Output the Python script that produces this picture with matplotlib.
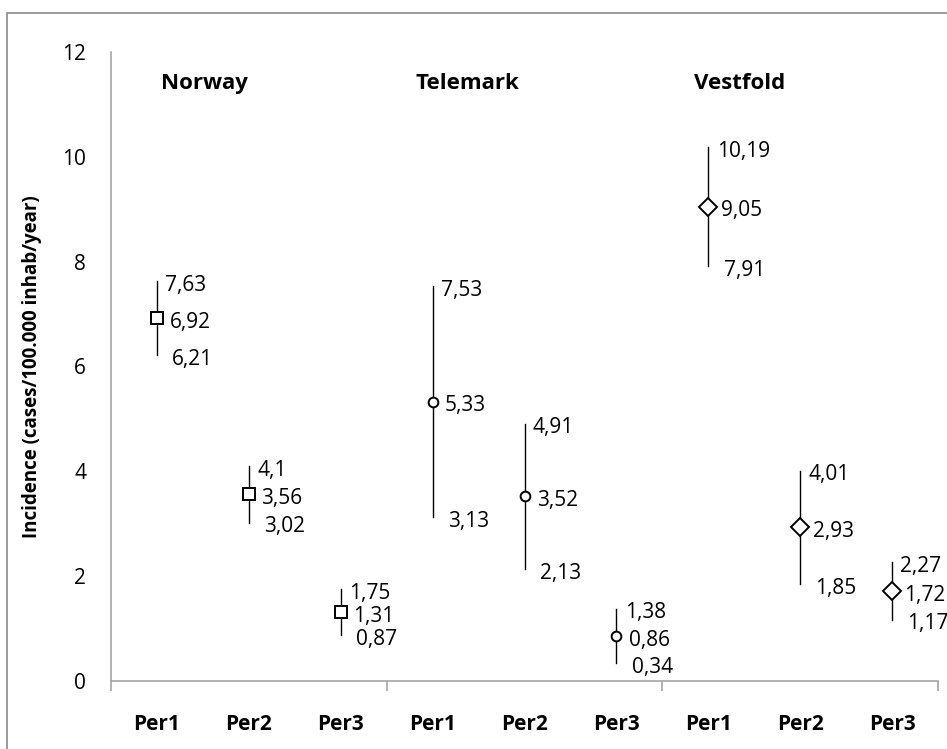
import matplotlib
matplotlib.use("Agg")
import matplotlib.pyplot as plt
from matplotlib.patches import Rectangle

plt.rcParams['font.family'] = ['Open Sans', 'DejaVu Sans']

# Incidence per region and period (cases/100.000 inhab/year)
regions = ["Norway", "Telemark", "Vestfold"]
periods = ["Per1", "Per2", "Per3"]
high = [7.63, 4.10, 1.75, 7.53, 4.91, 1.38, 10.19, 4.01, 2.27]
mean = [6.92, 3.56, 1.31, 5.33, 3.52, 0.86, 9.05, 2.93, 1.72]
low = [6.21, 3.02, 0.87, 3.13, 2.13, 0.34, 7.91, 1.85, 1.17]
high_text = ["7,63", "4,1", "1,75", "7,53", "4,91", "1,38", "10,19", "4,01", "2,27"]
mean_text = ["6,92", "3,56", "1,31", "5,33", "3,52", "0,86", "9,05", "2,93", "1,72"]
low_text = ["6,21", "3,02", "0,87", "3,13", "2,13", "0,34", "7,91", "1,85", "1,17"]

markers = {"Norway": ("s", 8), "Telemark": ("o", 7), "Vestfold": ("D", 9)}

fig = plt.figure(figsize=(9.47, 7.49), dpi=100)
ax = fig.add_axes([111 / 947, 68 / 749, 827 / 947, 629 / 749])

# chart-area frame
fig.patches.append(Rectangle((7 / 947, -0.1), 1.2, (749 - 13) / 749 + 0.1,
                             transform=fig.transFigure, fill=False,
                             edgecolor="#8a8a8a", linewidth=1.2))

n = len(periods)
for g, region in enumerate(regions):
    mk, ms = markers[region]
    for p in range(n):
        i = g * n + p
        x = i
        ax.plot([x, x], [low[i], high[i]], color="black", lw=1.0, zorder=2)
        ax.plot(x, mean[i], marker=mk, ms=ms, mfc="white", mec="black",
                mew=1.4, zorder=3)
        ax.annotate(high_text[i], (x, high[i]), xytext=(6, -3),
                    textcoords="offset points", va="center", ha="left",
                    fontsize=15)
        ax.annotate(mean_text[i], (x, mean[i]), xytext=(9, -3),
                    textcoords="offset points", va="center", ha="left",
                    fontsize=15)
        ax.annotate(low_text[i], (x, low[i]), xytext=(11, -3),
                    textcoords="offset points", va="center", ha="left",
                    fontsize=15)

# region titles
title_x = [0.52, 3.38, 6.34]
for tx, region in zip(title_x, regions):
    ax.text(tx, 11.39, region, ha="center", va="center", fontsize=16,
            fontweight="bold")

ax.set_xlim(-0.5, len(high) - 0.5)
ax.set_ylim(0, 12)
ax.set_yticks(range(0, 13, 2))
ax.set_yticklabels([str(v) for v in range(0, 13, 2)], fontsize=15)
ax.tick_params(axis="y", length=0, pad=18)

ax.set_xticks(range(len(high)))
ax.set_xticklabels(periods * len(regions), fontsize=15, fontweight="bold")
ax.tick_params(axis="x", which="major", length=0, pad=24)
ax.set_xticks([-0.5, 2.5, 5.5, 8.5], minor=True)
ax.tick_params(axis="x", which="minor", length=7, width=1.2,
               color="#a6a6a6", direction="out")

for side in ("top", "right"):
    ax.spines[side].set_visible(False)
for side in ("left", "bottom"):
    ax.spines[side].set_color("#a6a6a6")
    ax.spines[side].set_linewidth(1.2)

ax.set_ylabel("Incidence (cases/100.000 inhab/year)", fontsize=13.5,
              fontweight="bold")
ax.yaxis.set_label_coords(-69 / 827, 0.5)

fig.savefig("out.png", dpi=100)
